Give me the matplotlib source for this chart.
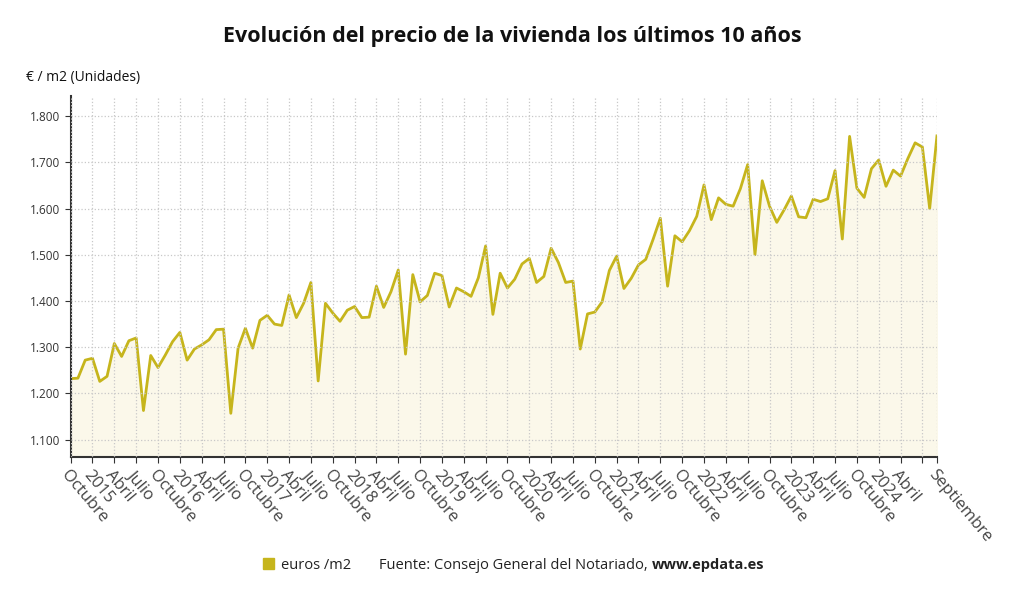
import matplotlib
matplotlib.use("Agg")
import matplotlib.pyplot as plt
import numpy as np

plt.rcParams["font.family"] = ["Open Sans", "DejaVu Sans"]

# monthly price, Oct 2014 .. Sep 2024
y2014 = [1232, 1233, 1272]
y2015 = [1276, 1226, 1237, 1308, 1280, 1314, 1320, 1163, 1282, 1256, 1283, 1312]
y2016 = [1332, 1272, 1296, 1305, 1316, 1338, 1339, 1157, 1298, 1341, 1298, 1358]
y2017 = [1369, 1350, 1347, 1413, 1364, 1395, 1440, 1227, 1395, 1374, 1356, 1380]
y2018 = [1388, 1364, 1365, 1432, 1386, 1420, 1467, 1285, 1457, 1398, 1412, 1460]
y2019 = [1455, 1387, 1428, 1420, 1410, 1450, 1519, 1371, 1460, 1428, 1447, 1480]
y2020 = [1492, 1440, 1453, 1514, 1483, 1440, 1443, 1296, 1372, 1376, 1398, 1466]
y2021 = [1497, 1427, 1449, 1478, 1490, 1533, 1579, 1432, 1541, 1528, 1552, 1583]
y2022 = [1651, 1576, 1623, 1609, 1605, 1643, 1695, 1500, 1660, 1605, 1570, 1597]
y2023 = [1627, 1582, 1580, 1620, 1615, 1621, 1682, 1534, 1756, 1644, 1624, 1686]
y2024 = [1705, 1648, 1683, 1670, 1708, 1742, 1733, 1600, 1757]
values = y2014 + y2015 + y2016 + y2017 + y2018 + y2019 + y2020 + y2021 + y2022 + y2023 + y2024

years = list(range(2015, 2025))
tick_labels = ["Octubre"]
for yr in years:
    tick_labels += [str(yr), "Abril", "Julio"]
    if yr < 2024:
        tick_labels.append("Octubre")
tick_labels[-1] = ""  # Julio 2024 hidden, too close to Septiembre
tick_labels.append("Septiembre")

x = np.arange(len(values))
tick_pos = list(range(0, len(values) - 1, 3)) + [len(values) - 1]

line_color = "#c6b51c"
fig = plt.figure(figsize=(10.24, 6.01), dpi=100)
ax = fig.add_axes([0.069, 0.24, 0.846, 0.60])
ax.fill_between(x, values, 1000, color="#fbf8ea")
ax.plot(x, values, color=line_color, lw=2)
ax.set_xlim(0, len(values) - 1)
ax.set_ylim(1063, 1843)
yt = np.arange(1100, 1801, 100)
ax.set_yticks(yt)
ax.set_yticklabels([f"{v/1000:.3f}" for v in yt], fontsize=8.5, color="#333333")
ax.set_xticks(tick_pos)
ax.set_xticklabels(tick_labels, rotation=-50, ha="left", va="top",
                   rotation_mode="anchor", fontsize=12, color="#444444")
ax.grid(True, which="major", color="#c8c8c8", ls=":", lw=0.9)
ax.set_axisbelow(False)
for s in ["top", "right"]:
    ax.spines[s].set_visible(False)
ax.spines["left"].set_color("#333333")
ax.spines["left"].set_linewidth(1.5)
ax.spines["bottom"].set_color("#333333")
ax.spines["bottom"].set_linewidth(1.5)
ax.tick_params(axis="both", which="major", color="#333333", length=4)

fig.text(0.5, 0.93, "Evolución del precio de la vivienda los últimos 10 años",
         ha="center", fontsize=15.5, fontweight="bold", color="#111111")
fig.text(0.025, 0.865, "€ / m2 (Unidades)", fontsize=10, color="#111111")

fig.patches.append(plt.Rectangle((0.257, 0.053), 0.011, 0.019, color=line_color,
                                 transform=fig.transFigure, figure=fig))
fig.text(0.274, 0.053, "euros /m2", fontsize=10.5, color="#222222")
fig.text(0.37, 0.053, "Fuente: Consejo General del Notariado, ", fontsize=10.5, color="#222222")
fig.text(0.637, 0.053, "www.epdata.es", fontsize=10.5, fontweight="bold", color="#222222")

fig.savefig("out.png", dpi=100)
